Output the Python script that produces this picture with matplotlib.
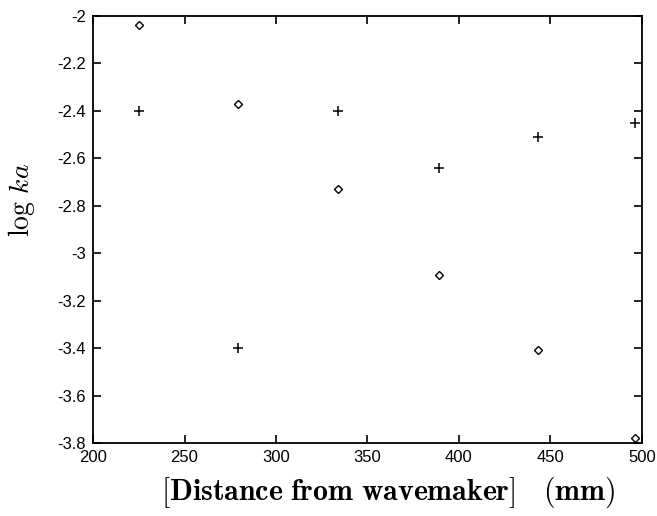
import matplotlib
matplotlib.use('Agg')
import matplotlib.pyplot as plt
from matplotlib.ticker import FuncFormatter

# distance from wavemaker (mm)
distance = [225, 279, 334, 389, 443, 496]
# diamonds
log_ka_diamond = [-2.04, -2.37, -2.73, -3.09, -3.41, -3.78]
# crosses
log_ka_plus = [-2.40, -3.40, -2.40, -2.64, -2.51, -2.45]

x_ticks = [200, 250, 300, 350, 400, 450, 500]
y_ticks = [-2, -2.2, -2.4, -2.6, -2.8, -3, -3.2, -3.4, -3.6, -3.8]

plt.rcParams['mathtext.fontset'] = 'cm'
plt.rcParams['font.family'] = ['Liberation Sans', 'DejaVu Sans']

fig = plt.figure(figsize=(6.57, 5.16), dpi=100)
ax = fig.add_axes([0.1416, 0.1415, 0.8354, 0.8275])

ax.plot(distance, log_ka_diamond, linestyle='none', marker='D', markersize=4.5,
        markerfacecolor='white', markeredgecolor='black', markeredgewidth=1.0)
ax.plot(distance, log_ka_plus, linestyle='none', marker='+', markersize=7,
        color='black', markeredgewidth=1.1)

ax.set_xlim(200, 500)
ax.set_ylim(-3.8, -2)
ax.set_xticks(x_ticks)
ax.set_yticks(y_ticks)

# hyphen style labels like the original
ax.xaxis.set_major_formatter(FuncFormatter(lambda v, p: '%g' % v))
ax.yaxis.set_major_formatter(FuncFormatter(lambda v, p: ('%g' % v).replace('\u2212', '-')))

ax.tick_params(direction='in', length=6, width=1.2, top=True, right=True,
               labelsize=12, pad=5)
for spine in ax.spines.values():
    spine.set_linewidth(1.3)

ax.set_xlabel(r'$\mathbf{[Distance\ from\ wavemaker]\ \ \ (mm)}$', fontsize=21.5)
ax.xaxis.set_label_coords(0.538, -0.074)
ax.set_ylabel(r'$\log\,ka$', fontsize=20)
ax.yaxis.set_label_coords(-0.102, 0.569)

plt.savefig('out.png', dpi=100)
